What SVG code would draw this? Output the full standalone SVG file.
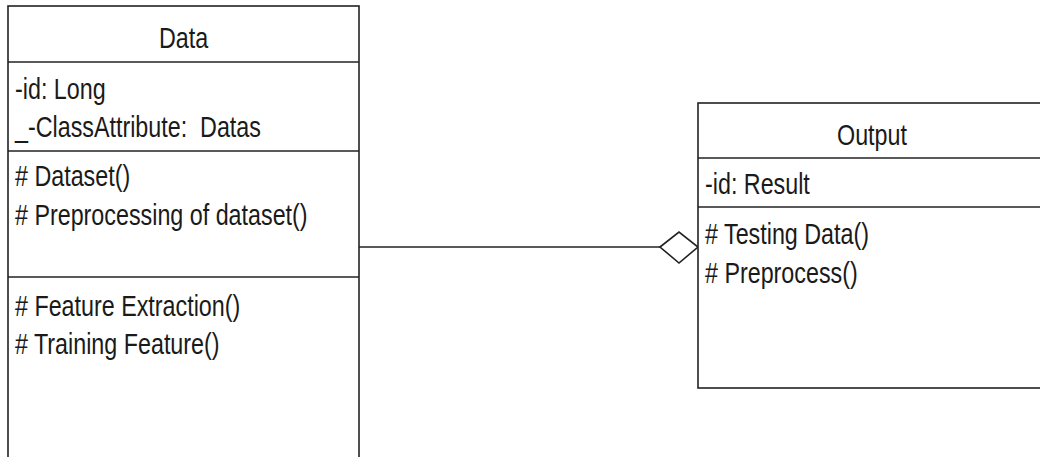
<svg xmlns="http://www.w3.org/2000/svg" width="1040" height="457" viewBox="0 0 1040 457">
<style>
.box{fill:#fff;stroke:#222;stroke-width:1.6}
.div{stroke:#222;stroke-width:1.6}
.t{font-family:"Liberation Sans",Arial,sans-serif;font-size:23.3px;fill:#1a1a1a}
.c{text-anchor:middle}
.edge{stroke:#222;stroke-width:1.6;fill:none}
.agg{fill:#fff;stroke:#222;stroke-width:1.6}
</style>
<rect width="1040" height="457" fill="#fff"/>
<g id="connectors">
<line class="edge" x1="359" y1="247" x2="660" y2="247"/>
<polygon class="agg" points="660,247 679,232 698,247 679,263"/>
</g>
<g id="node-data">
<rect class="box" x="8" y="6" width="351" height="470"/>
<line class="div" x1="8" y1="62" x2="359" y2="62"/>
<line class="div" x1="8" y1="151" x2="359" y2="151"/>
<line class="div" x1="8" y1="277" x2="359" y2="277"/>
<text class="t c" transform="translate(183.5 48) scale(1 1.28)">Data</text>
<text class="t" transform="translate(15 99) scale(1 1.28)">-id: Long</text>
<text class="t" transform="translate(15 137) scale(1 1.28)" xml:space="preserve">_-ClassAttribute:  Datas</text>
<text class="t" transform="translate(15 186) scale(1 1.28)"># Dataset()</text>
<text class="t" transform="translate(15 225) scale(1 1.28)"># Preprocessing of dataset()</text>
<text class="t" transform="translate(15 316) scale(1 1.28)"># Feature Extraction()</text>
<text class="t" transform="translate(15 354) scale(1 1.28)"># Training Feature()</text>
</g>
<g id="node-output">
<rect class="box" x="698" y="103" width="350" height="285"/>
<line class="div" x1="698" y1="158" x2="1048" y2="158"/>
<line class="div" x1="698" y1="207" x2="1048" y2="207"/>
<text class="t c" transform="translate(872 145) scale(1 1.28)">Output</text>
<text class="t" transform="translate(705 194) scale(1 1.28)">-id: Result</text>
<text class="t" transform="translate(705 244) scale(1 1.28)"># Testing Data()</text>
<text class="t" transform="translate(705 283) scale(1 1.28)"># Preprocess()</text>
</g>
</svg>
